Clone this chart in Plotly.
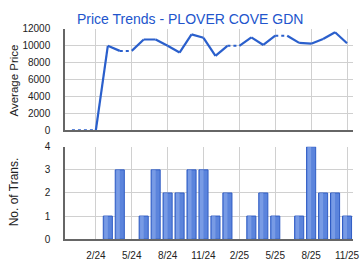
import plotly.graph_objects as go

months = ["12/23", "1/24", "2/24", "3/24", "4/24", "5/24", "6/24", "7/24", "8/24", "9/24",
          "10/24", "11/24", "12/24", "1/25", "2/25", "3/25", "4/25", "5/25", "6/25", "7/25",
          "8/25", "9/25", "10/25", "11/25"]
# None = no transaction that month (price carried forward, drawn dotted)
avg_price = [0, None, None, 10000, 9400, None, 10750, 10750, 10000, 9200,
             11350, 10950, 8800, 10000, None, 11000, 10100, 11200, None, 10350,
             10250, 10800, 11600, 10300]
trans = [0, 0, 0, 1, 3, 0, 1, 3, 2, 2,
         3, 3, 1, 2, 0, 1, 2, 1, 0, 1,
         4, 2, 2, 1]
tick_labels = ["2/24", "5/24", "8/24", "11/24", "2/25", "5/25", "8/25", "11/25"]

x = list(range(len(months)))
tick_vals = [months.index(t) for t in tick_labels]
bar_vals = [v if v else None for v in trans]

filled = []
last = 0
for v in avg_price:
    if v is not None:
        last = v
    filled.append(last)

line_color = "#2a5fcc"
fig = go.Figure()

solid_x, solid_y, dot_x, dot_y = [], [], [], []
for i in range(1, len(x)):
    if avg_price[i] is None:
        dot_x += [x[i-1], x[i], None]
        dot_y += [filled[i-1], filled[i], None]
    else:
        solid_x += [x[i-1], x[i], None]
        solid_y += [filled[i-1], filled[i], None]

fig.add_trace(go.Scatter(x=dot_x, y=dot_y, mode="lines",
                         line=dict(color=line_color, width=2, dash="dot"),
                         xaxis="x", yaxis="y", showlegend=False, hoverinfo="skip"))
fig.add_trace(go.Scatter(x=solid_x, y=solid_y, mode="lines",
                         line=dict(color=line_color, width=2.2),
                         xaxis="x", yaxis="y", showlegend=False))

fig.add_trace(go.Bar(x=x, y=bar_vals, width=0.76,
                     marker=dict(color="#5b84dc", line=dict(color="#2f5cc4", width=1)),
                     xaxis="x2", yaxis="y2", showlegend=False))
fig.add_trace(go.Bar(x=x, y=bar_vals, width=0.3,
                     marker=dict(color="rgba(140,170,235,0.6)", line=dict(width=0)),
                     xaxis="x2", yaxis="y2", showlegend=False, offset=-0.3))

H = 270.0
xr = [-0.58, 23.5]
grid = "#d0d0d0"
axis_line = "#666666"
tickfont = dict(family="Liberation Sans, Arial", size=10, color="#222222")

fig.update_layout(
    width=360, height=270,
    margin=dict(l=65, r=7, t=0, b=0),
    paper_bgcolor="white", plot_bgcolor="white",
    barmode="overlay",
    xaxis=dict(domain=[0, 1], range=xr, tickvals=tick_vals, ticktext=tick_labels,
               showticklabels=False, showgrid=True, gridcolor=grid, gridwidth=1,
               showline=True, linecolor=axis_line, linewidth=1.5, zeroline=False,
               anchor="y", fixedrange=True),
    yaxis=dict(domain=[1 - 130 / H, 1 - 24 / H], range=[0, 12000], dtick=2000,
               tickformat="d",
               showgrid=True, gridcolor=grid, gridwidth=1, tickfont=tickfont,
               showline=True, linecolor=axis_line, linewidth=1.5, zeroline=False,
               ticklabelstandoff=11, anchor="x"),
    xaxis2=dict(domain=[0, 1], range=xr, tickvals=tick_vals, ticktext=tick_labels,
                showgrid=True, gridcolor=grid, gridwidth=1, tickfont=tickfont,
                showline=True, linecolor=axis_line, linewidth=1.5, zeroline=False,
                ticklabelstandoff=6, ticklabeloverflow="allow", anchor="y2"),
    yaxis2=dict(domain=[1 - 244 / H, 1 - 147.3 / H], range=[0, 4], dtick=1,
                showgrid=True, gridcolor=grid, gridwidth=1, tickfont=tickfont,
                showline=True, linecolor=axis_line, linewidth=1.5, zeroline=False,
                ticklabelstandoff=11, anchor="x2"),
    annotations=[
        dict(text="Price Trends - PLOVER COVE GDN", xref="paper", yref="paper",
             x=(75 - 65) / 288.0, y=1 - 14 / H, xanchor="left", yanchor="middle",
             showarrow=False, font=dict(family="Liberation Sans, Arial", size=14, color="#2255cc")),
        dict(text="Average Price", xref="paper", yref="paper", textangle=-90,
             x=(14 - 65) / 288.0, y=1 - 78 / H, xanchor="center", yanchor="middle",
             showarrow=False, font=dict(family="Liberation Sans, Arial", size=11.5, color="#222222")),
        dict(text="No. of Trans.", xref="paper", yref="paper", textangle=-90,
             x=(14 - 65) / 288.0, y=1 - 195 / H, xanchor="center", yanchor="middle",
             showarrow=False, font=dict(family="Liberation Sans, Arial", size=12, color="#222222")),
    ],
)

fig.write_html("out.html", config={"displayModeBar": False})
